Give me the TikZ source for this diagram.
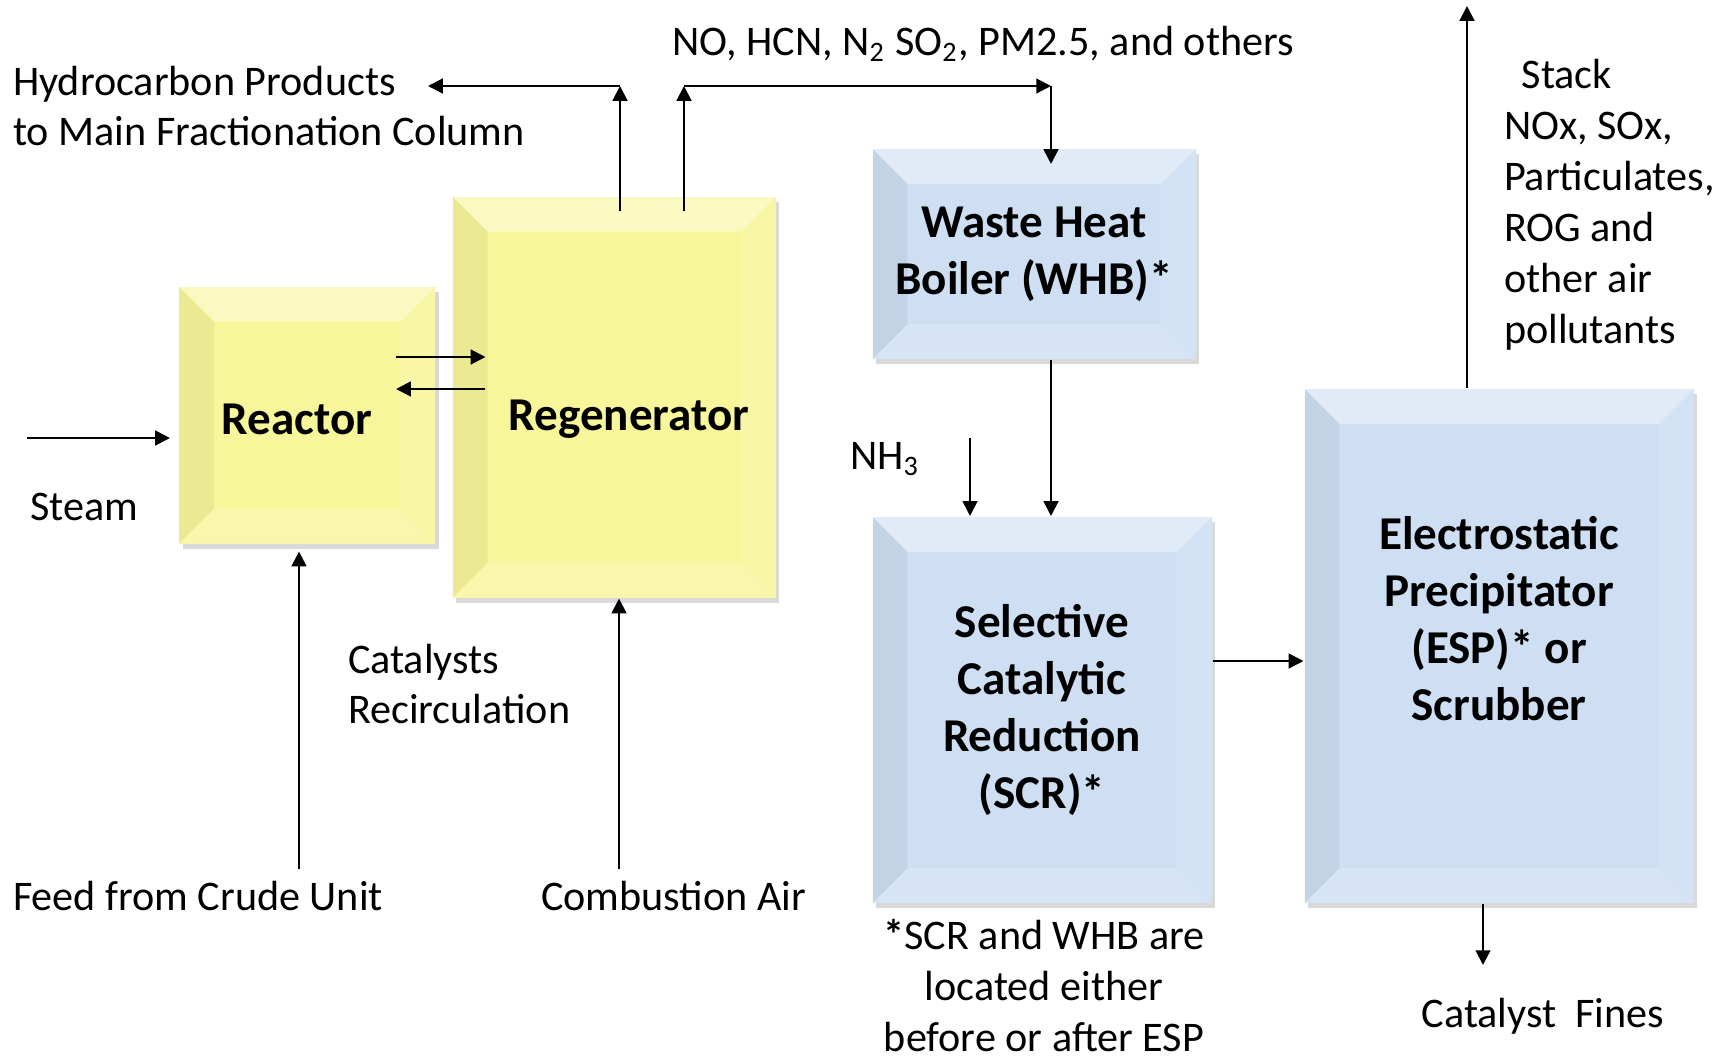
\documentclass[tikz,border=0pt]{standalone}
\usepackage{fontspec}
\setmainfont{Carlito}
\usetikzlibrary{arrows.meta,shadows}

\definecolor{boxyellow}{RGB}{248,246,154}
\definecolor{boxblue}{RGB}{206,223,243}

\tikzset{
    bevel/.style={
        path picture={
            \coordinate (nw) at (path picture bounding box.north west);
            \coordinate (ne) at (path picture bounding box.north east);
            \coordinate (sw) at (path picture bounding box.south west);
            \coordinate (se) at (path picture bounding box.south east);
            \fill[white,opacity=.4] (nw) -- (ne) -- ([shift={(-10pt,-10pt)}]ne) -- ([shift={(10pt,-10pt)}]nw) -- cycle;
            \fill[black,opacity=.05] (nw) -- ([shift={(10pt,-10pt)}]nw) -- ([shift={(10pt,10pt)}]sw) -- (sw) -- cycle;
            \fill[white,opacity=.12] (ne) -- ([shift={(-10pt,-10pt)}]ne) -- ([shift={(-10pt,10pt)}]se) -- (se) -- cycle;
            \fill[white,opacity=.18] (sw) -- ([shift={(10pt,10pt)}]sw) -- ([shift={(-10pt,10pt)}]se) -- (se) -- cycle;
        }
    },
    btxt/.style={font=\fontsize{13.4}{16.2}\selectfont\bfseries, align=center},
    ybox/.style={bevel, btxt, fill=boxyellow, drop shadow={shadow xshift=1pt,shadow yshift=-1.5pt,opacity=.3}},
    bbox/.style={bevel, btxt, fill=boxblue, drop shadow={shadow xshift=1pt,shadow yshift=-1.5pt,opacity=.3}},
    lbl/.style={font=\fontsize{12}{14.5}\selectfont, align=left, anchor=west, inner sep=0pt}
}

\begin{document}
\begin{tikzpicture}[x=0.1mm, y=-0.1mm, >={Triangle[length=4.2pt,width=4.2pt]}, line width=0.6pt]
    \useasboundingbox (0,0) rectangle (1733,1058);

    \node[ybox, minimum width=25.6mm, minimum height=25.7mm] (r) at (307,415) {};
    \node[btxt] at ([xshift=-1mm,yshift=-0.4mm]r.center) {Reactor};
    \node[ybox, minimum width=32.3mm, minimum height=40.1mm] (g) at (614,397) {};
    \node[btxt] at ([xshift=1.5mm,yshift=-2.2mm]g.center) {Regenerator};
    \node[bbox, minimum width=32.3mm, minimum height=21mm] (w) at (1034,254) {Waste Heat\\Boiler (WHB)*};
    \node[bbox, minimum width=33.9mm, minimum height=38.6mm] (s) at (1042,710) {Selective\\Catalytic\\Reduction\\(SCR)*};
    \node[bbox, minimum width=38.9mm, minimum height=51.4mm] (e) at (1499,646) {};
    \node[btxt] at ([yshift=2.7mm]e.center) {Electrostatic\\Precipitator\\(ESP)* or\\Scrubber};

    \node[lbl] (hc) at (12,106) {Hydrocarbon Products\\to Main Fractionation Column};
    \node[lbl] (fl) at (671,44) {NO, HCN, N\textsubscript{2} SO\textsubscript{2}, PM2.5, and others};
    \node[lbl] (sm) at (29,507) {Steam};
    \node[lbl] (cr) at (347,684) {Catalysts\\Recirculation};
    \node[lbl] (fc) at (12,896) {Feed from Crude Unit};
    \node[lbl] (ai) at (540,896) {Combustion Air};
    \node[lbl] (nt) at (849,459) {NH\textsubscript{3}};
    \node[lbl] (sl) at (1503,205) {\hspace*{5pt}Stack\\NOx, SOx,\\Particulates,\\ROG and\\other air\\pollutants};
    \node[lbl, anchor=center] (ft) at (1543,1016) {Catalyst~~Fines};
    \node[lbl, anchor=center, align=center] (nb) at (1044,986) {\textbf{*}SCR and WHB are\\located either\\before or after ESP};

    \coordinate (hp) at (620,86);
    \coordinate (hx) at (428,86);
    \coordinate (fg) at (684,86);
    \coordinate (fw) at (1051,86);
    \coordinate (st) at (27,438);
    \coordinate (fd) at (299,869);
    \coordinate (ca) at (619,869);
    \coordinate (nh) at (970,438);
    \coordinate (sk) at (1467,6);
    \coordinate (cf) at (1483,965);

    \draw[->] ([yshift=-1.6mm]hp |- g.north) -- (hp);
    \draw[->] (hp) -- (hx);
    \draw[->] ([yshift=-1.6mm]fg |- g.north) -- (fg);
    \draw[->] (fg) -- (fw);
    \draw[->] (fw) -- ([yshift=-1.6mm]fw |- w.north);
    \draw[->] ([xshift=-4mm,yshift=5.8mm]r.east) -- ([xshift=3.4mm,yshift=5.8mm]g.west |- r.east);
    \draw[<-] ([xshift=-4mm,yshift=2.6mm]r.east) -- ([xshift=3.4mm,yshift=2.6mm]g.west |- r.east);
    \draw[->] (st) -- ([xshift=-0.8mm]st -| r.west);
    \draw[->] (fd) -- ([yshift=-0.7mm]fd |- r.south);
    \draw[->] (ca) -- (ca |- g.south);
    \draw[->] (fw |- w.south) -- (fw |- s.north);
    \draw[->] (nh) -- (nh |- s.north);
    \draw[->] ([yshift=4.9mm]s.east) -- ([yshift=4.9mm]e.west |- s.east);
    \draw[->] (sk |- e.north) -- (sk);
    \draw[->] (cf |- e.south) -- (cf);
\end{tikzpicture}
\end{document}
